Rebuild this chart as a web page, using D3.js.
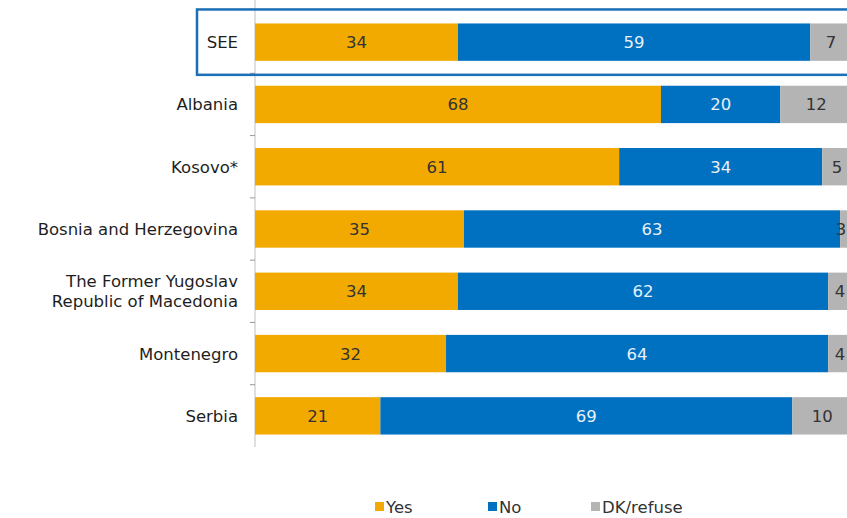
<!DOCTYPE html>
<html>
<head>
<meta charset="utf-8">
<script src="https://cdn.jsdelivr.net/npm/d3@7"></script>
<style>
  body { margin: 0; background: #fff; }
  svg { display: block; }
</style>
</head>
<body>
<div class="chart"></div>
<script>
var categories = ['SEE', 'Albania', 'Kosovo*', 'Bosnia and Herzegovina',
                  'The Former Yugoslav Republic of Macedonia', 'Montenegro', 'Serbia'];
var yesValues = [34, 68, 61, 35, 34, 32, 21];
var noValues  = [59, 20, 34, 63, 62, 64, 69];
var dkValues  = [7, 12, 5, 3, 4, 4, 10];
var seriesNames = ['Yes', 'No', 'DK/refuse'];

var width = 847, height = 518;
var fontFamily = 'DejaVu Sans, Verdana, sans-serif';
var fontSize = 16.5;
var colors = ['#F2A900', '#0070C0', '#B4B4B4'];
var textColors = ['#333333', '#e8f0fa', '#333333'];

var svg = d3.select('.chart')
            .append('svg')
            .attr('width', width)
            .attr('height', height);

var x = d3.scaleLinear().domain([0, 100]).range([255, 852]);
var y = d3.scaleBand().domain(categories).range([11, 447]).paddingInner(0.4).paddingOuter(0.2);

var rows = categories.map(function(c, i){
    return [yesValues[i], noValues[i], dkValues[i]];
});

// vertical axis line + ticks between categories
svg.append('line')
   .attr('x1', x(0)).attr('x2', x(0))
   .attr('y1', 0).attr('y2', 447)
   .attr('stroke', '#bfbfbf').attr('stroke-width', 1);

for(var i = 1; i < categories.length; i++){
    var ty = y(categories[i]) - y.step()*y.paddingInner()/2;
    svg.append('line')
       .attr('x1', x(0) - 5).attr('x2', x(0))
       .attr('y1', ty).attr('y2', ty)
       .attr('stroke', '#999').attr('stroke-width', 1);
}

// bars
rows.forEach(function(vals, i){
    var start = 0;
    vals.forEach(function(v, j){
        var x0 = x(start), x1 = x(start + v);
        svg.append('rect')
           .attr('x', x0)
           .attr('y', y(categories[i]))
           .attr('width', x1 - x0)
           .attr('height', y.bandwidth())
           .attr('fill', colors[j]);
        // keep labels inside the visible area
        var cx = Math.min((x0 + x1)/2, width - 6);
        svg.append('text')
           .attr('x', cx)
           .attr('y', y(categories[i]) + y.bandwidth()/2 + 6)
           .attr('text-anchor', 'middle')
           .attr('font-size', fontSize)
           .attr('font-family', fontFamily)
           .attr('fill', textColors[j])
           .text(v);
        start += v;
    });
});

// category labels
categories.forEach(function(c, i){
    var cy = y(c) + y.bandwidth()/2;
    var lines = [c];
    if(c.indexOf('Macedonia') >= 0){
        lines = ['The Former Yugoslav', 'Republic of Macedonia'];
    }
    lines.forEach(function(t, k){
        svg.append('text')
           .attr('x', 238)
           .attr('y', cy + 6 + (k - (lines.length-1)/2)*20)
           .attr('text-anchor', 'end')
           .attr('font-size', fontSize)
           .attr('font-family', fontFamily)
           .attr('fill', '#1e1e1e')
           .text(t);
    });
});

// highlight box around SEE
svg.append('rect')
   .attr('x', 197)
   .attr('y', y('SEE') - 14)
   .attr('width', 700)
   .attr('height', y.bandwidth() + 28)
   .attr('fill', 'none')
   .attr('stroke', '#1a6fb8')
   .attr('stroke-width', 2.5);

// legend
var legendX = [375, 488, 591];
seriesNames.forEach(function(s, j){
    svg.append('rect')
       .attr('x', legendX[j]).attr('y', 502)
       .attr('width', 9).attr('height', 9)
       .attr('fill', colors[j]);
    svg.append('text')
       .attr('x', legendX[j] + 11)
       .attr('y', 513)
       .attr('font-size', fontSize)
       .attr('font-family', fontFamily)
       .attr('fill', '#333')
       .text(s);
});
</script>
</body>
</html>
